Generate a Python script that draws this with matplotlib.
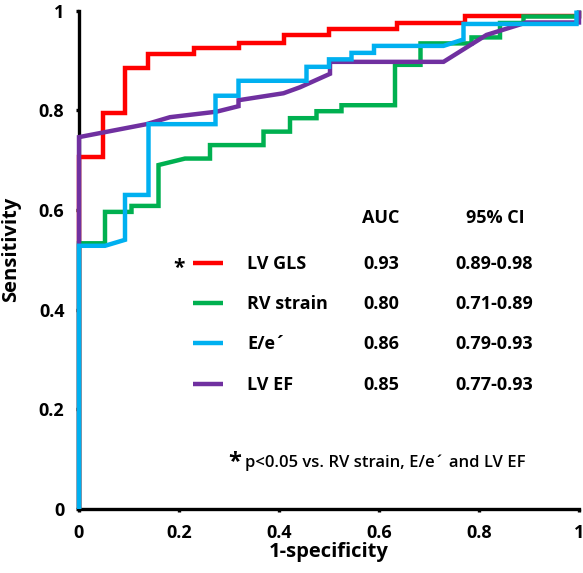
import numpy as np
import matplotlib
matplotlib.use('Agg')
import matplotlib.pyplot as plt

plt.rcParams['font.family'] = ['Open Sans', 'DejaVu Sans']
plt.rcParams['font.weight'] = 'bold'

# ROC curve vertices (1-specificity, sensitivity)
gls_x = [0, 0, 0.047, 0.047, 0.091, 0.091, 0.137, 0.137, 0.229, 0.229, 0.32, 0.32,
         0.41, 0.41, 0.50, 0.50, 0.635, 0.635, 0.772, 0.772, 1.0, 1.0]
gls_y = [0, 0.707, 0.707, 0.795, 0.795, 0.885, 0.885, 0.912, 0.912, 0.924, 0.924, 0.935,
         0.935, 0.951, 0.951, 0.962, 0.962, 0.974, 0.974, 0.988, 0.988, 1.0]

rv_x = [0, 0, 0.052, 0.052, 0.105, 0.105, 0.159, 0.159, 0.212, 0.262, 0.262, 0.369, 0.369,
        0.422, 0.422, 0.475, 0.475, 0.525, 0.525, 0.632, 0.632, 0.683, 0.683, 0.785, 0.785,
        0.842, 0.842, 0.889, 0.889, 1.0, 1.0]
rv_y = [0, 0.533, 0.533, 0.596, 0.596, 0.608, 0.608, 0.690, 0.703, 0.703, 0.730, 0.730, 0.757,
        0.757, 0.784, 0.784, 0.798, 0.798, 0.810, 0.810, 0.891, 0.891, 0.934, 0.934, 0.946,
        0.946, 0.975, 0.975, 0.988, 0.988, 1.0]

ee_x = [0, 0, 0.052, 0.092, 0.092, 0.139, 0.139, 0.273, 0.273, 0.319, 0.319, 0.455, 0.455,
        0.50, 0.50, 0.545, 0.545, 0.59, 0.59, 0.729, 0.769, 0.769, 0.995, 0.995]
ee_y = [0, 0.528, 0.528, 0.540, 0.630, 0.630, 0.772, 0.772, 0.829, 0.829, 0.859, 0.859, 0.887,
        0.887, 0.902, 0.902, 0.915, 0.915, 0.929, 0.929, 0.942, 0.973, 0.973, 1.0]

ef_x = [0, 0, 0.135, 0.182, 0.275, 0.319, 0.319, 0.409, 0.442, 0.502, 0.502, 0.729, 0.815,
        0.895, 1.0, 1.0]
ef_y = [0, 0.746, 0.772, 0.786, 0.797, 0.808, 0.820, 0.834, 0.846, 0.873, 0.897, 0.897, 0.951,
        0.976, 0.976, 1.0]

names = ['LV GLS', 'RV strain', 'E/e\u00b4', 'LV EF']
auc = ['0.93', '0.80', '0.86', '0.85']
ci = ['0.89-0.98', '0.71-0.89', '0.79-0.93', '0.77-0.93']
colors = ['#FF0000', '#00B050', '#00B0F0', '#7030A0']
curves = [(gls_x, gls_y), (rv_x, rv_y), (ee_x, ee_y), (ef_x, ef_y)]
zorders = [3, 4, 6, 5]

fig = plt.figure(figsize=(5.83, 5.73), dpi=100)
ax = fig.add_axes([79/583, 64/573, 500/583, 498.5/573])

for (x, y), c, z in zip(curves, colors, zorders):
    ax.plot(x, y, color=c, lw=3.2, zorder=z, clip_on=False,
            solid_joinstyle='miter', solid_capstyle='butt')

ax.set_xlim(0, 1)
ax.set_ylim(0, 1)
ticks = [0, 0.2, 0.4, 0.6, 0.8, 1]
labels = ['0', '0.2', '0.4', '0.6', '0.8', '1']
ax.set_xticks(ticks)
ax.set_xticklabels(labels)
ax.set_yticks(ticks)
ax.set_yticklabels(labels)
ax.tick_params(direction='out', length=2.5, width=2.4, labelsize=13, pad=8)
for lbl in ax.get_xticklabels() + ax.get_yticklabels():
    lbl.set_fontweight('bold')
for s in ['top', 'right']:
    ax.spines[s].set_visible(False)
for s in ['left', 'bottom']:
    ax.spines[s].set_linewidth(2.4)
    ax.spines[s].set_zorder(2)

ax.set_xlabel('1-specificity', fontsize=14.5, fontweight='bold', labelpad=0)
ax.set_ylabel('Sensitivity', fontsize=14.5, fontweight='bold')
ax.yaxis.set_label_coords(-0.116, 0.52)

# hand-made legend table
row_base = [0.481, 0.401, 0.320, 0.239]
ax.text(0.567, 0.574, 'AUC', fontsize=13, fontweight='bold')
ax.text(0.774, 0.574, '95% CI', fontsize=13, fontweight='bold')
for i in range(4):
    yb = row_base[i]
    ax.plot([0.228, 0.288], [yb + 0.012, yb + 0.012], color=colors[i], lw=3.2,
            solid_capstyle='butt')
    ax.text(0.336, yb, names[i], fontsize=13, fontweight='bold')
    ax.text(0.568, yb, auc[i], fontsize=13, fontweight='bold')
    ax.text(0.752, yb, ci[i], fontsize=13, fontweight='bold')
ax.text(0.20, 0.482, '*', fontsize=15, fontweight='bold', ha='center', va='center')

ax.text(0.299, 0.094, '*', fontsize=17, fontweight='bold', ha='left', va='center')
ax.text(0.332, 0.085, 'p<0.05 vs. RV strain, E/e\u00b4 and LV EF', fontsize=12,
        fontweight='semibold')

fig.savefig('out.png', dpi=100)
